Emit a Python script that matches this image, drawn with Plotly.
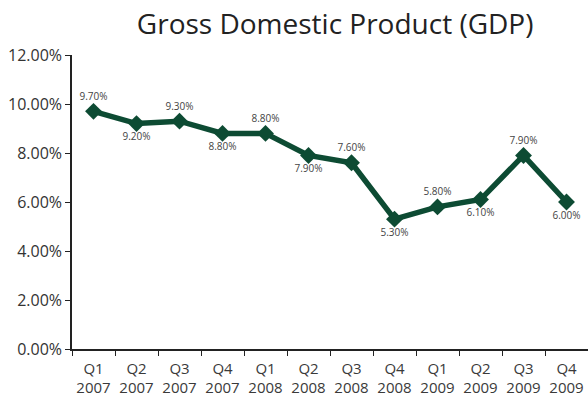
import plotly.graph_objects as go

quarters = ["Q1<br>2007", "Q2<br>2007", "Q3<br>2007", "Q4<br>2007",
            "Q1<br>2008", "Q2<br>2008", "Q3<br>2008", "Q4<br>2008",
            "Q1<br>2009", "Q2<br>2009", "Q3<br>2009", "Q4<br>2009"]
gdp_growth = [9.7, 9.2, 9.3, 8.8, 8.8, 7.9, 7.6, 5.3, 5.8, 6.1, 7.9, 6.0]
label_side = ["top center", "bottom center"] * 6
y_ticks = [0, 2, 4, 6, 8, 10, 12]

green = "#0d4b33"
font_family = "Open Sans, sans-serif"

fig = go.Figure(go.Scatter(
    x=quarters,
    y=gdp_growth,
    mode="lines+markers+text",
    line=dict(color=green, width=5.5),
    marker=dict(symbol="diamond", size=13, color=green),
    text=[f"{v:.2f}%" for v in gdp_growth],
    textposition=label_side,
    textfont=dict(size=10, color="#444444", family=font_family),
    cliponaxis=False,
    hoverinfo="skip",
))

fig.update_layout(
    width=588, height=399,
    margin=dict(l=72, r=0, t=55, b=50),
    paper_bgcolor="white", plot_bgcolor="white",
    showlegend=False,
    title=dict(text="Gross Domestic Product (GDP)", x=0.57, xanchor="center",
               y=0.94, yanchor="middle",
               font=dict(size=28, color="#222222", family=font_family)),
    font=dict(family=font_family, color="#333333"),
)

fig.update_xaxes(
    type="category", range=[-0.5, 11.5], tickson="boundaries",
    showline=True, linecolor="#222222", linewidth=1.5,
    ticks="outside", ticklen=5, tickcolor="#222222",
    tickangle=0, automargin=False, ticklabelstandoff=5,
    showgrid=False, tickfont=dict(size=15, color="#3a3a3a"),
)
fig.update_yaxes(
    range=[0, 12], tickvals=y_ticks,
    ticktext=[f"{v:.2f}%" for v in y_ticks],
    showline=True, linecolor="#222222", linewidth=1.5,
    ticks="outside", ticklen=5, tickcolor="#222222",
    automargin=False,
    showgrid=False, zeroline=False, tickfont=dict(size=16, color="#333333"),
)

fig.write_html("out.html")
